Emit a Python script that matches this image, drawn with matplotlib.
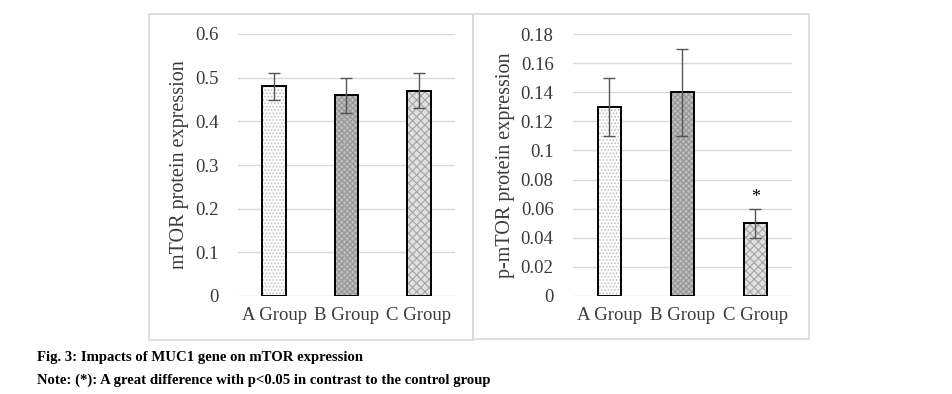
import matplotlib
matplotlib.use("Agg")
import matplotlib.pyplot as plt
from matplotlib.patches import Rectangle

categories = ["A Group", "B Group", "C Group"]
mtor_values = [0.48, 0.46, 0.47]
mtor_errors = [0.03, 0.04, 0.04]
pmtor_values = [0.13, 0.14, 0.05]
pmtor_errors = [0.02, 0.03, 0.01]
mtor_ticks = [0, 0.1, 0.2, 0.3, 0.4, 0.5, 0.6]
pmtor_ticks = [0, 0.02, 0.04, 0.06, 0.08, 0.1, 0.12, 0.14, 0.16, 0.18]
mtor_ticklabels = ["0", "0.1", "0.2", "0.3", "0.4", "0.5", "0.6"]
pmtor_ticklabels = ["0", "0.02", "0.04", "0.06", "0.08", "0.1", "0.12", "0.14", "0.16", "0.18"]
sig_marks = ["", "", "*"]

plt.rcParams['font.family'] = ['Liberation Serif', 'DejaVu Serif']
plt.rcParams['hatch.linewidth'] = 0.8

fig = plt.figure(figsize=(9.53, 3.94), dpi=100)
W, H = 953, 394

# panel frames
for (x0, x1, y0, y1) in [(149, 473, 14, 340), (473, 809, 14, 339)]:
    fig.patches.append(Rectangle((x0 / W, 1 - y1 / H), (x1 - x0) / W, (y1 - y0) / H,
                                 transform=fig.transFigure, fill=False,
                                 edgecolor='#d9d9d9', linewidth=1.2))

styles = [
    dict(face='white', hatch='.....', hcol='#c0c0c0'),
    dict(face='#bdbdbd', hatch='xxxxxx', hcol='#959595'),
    dict(face='#e0e0e0', hatch='xxxx', hcol='#a5a5a5'),
]

def draw(ax, vals, errs, ticks, ticklabels, ylabel, ymax, marks, width):
    x = list(range(len(categories)))
    for i in x:
        st = styles[i]
        ax.bar(x[i], vals[i], width=width, color=st['face'], hatch=st['hatch'],
               edgecolor=st['hcol'], linewidth=0, zorder=2)
    ax.bar(x, vals, width=width, fill=False, edgecolor='black', linewidth=1.4, zorder=3)
    ax.errorbar(x, vals, yerr=errs, fmt='none', ecolor='#555555', elinewidth=1.0,
                capsize=4, capthick=1.0, zorder=4)
    for i, m in enumerate(marks):
        if m:
            ax.text(x[i], vals[i] + errs[i] + ymax * 0.012, m, ha='center', va='bottom',
                    fontsize=13)
    ax.set_xlim(-0.5, 2.5)
    ax.set_ylim(0, ymax)
    ax.set_yticks(ticks)
    ax.set_yticklabels(ticklabels)
    ax.set_xticks(x)
    ax.set_xticklabels(categories)
    ax.tick_params(axis='both', length=0, labelsize=13.5, colors='#3a3a3a')
    ax.tick_params(axis='y', pad=14)
    ax.tick_params(axis='x', pad=8)
    ax.grid(axis='y', color='#d9d9d9', linewidth=1.0, zorder=0)
    ax.set_axisbelow(True)
    for s in ax.spines.values():
        s.set_visible(False)
    ax.set_ylabel(ylabel, fontsize=14.5, color='#3a3a3a', labelpad=4)

ax1 = fig.add_axes([238 / W, 1 - 296 / H, 217 / W, 262 / H])
draw(ax1, mtor_values, mtor_errors, mtor_ticks, mtor_ticklabels,
     "mTOR protein expression", 0.6, ["", "", ""], 0.33)

ax2 = fig.add_axes([573 / W, 1 - 296 / H, 219 / W, 262 / H])
draw(ax2, pmtor_values, pmtor_errors, pmtor_ticks, pmtor_ticklabels,
     "p-mTOR protein expression", 0.18, sig_marks, 0.32)

fig.text(37 / W, 1 - 358 / H, "Fig. 3: Impacts of MUC1 gene on mTOR expression",
         fontsize=10.65, fontweight='bold', va='center', ha='left')
fig.text(37 / W, 1 - 380 / H,
         "Note: (*): A great difference with p<0.05 in contrast to the control group",
         fontsize=10.65, fontweight='bold', va='center', ha='left')

fig.savefig("out.png", dpi=100)
